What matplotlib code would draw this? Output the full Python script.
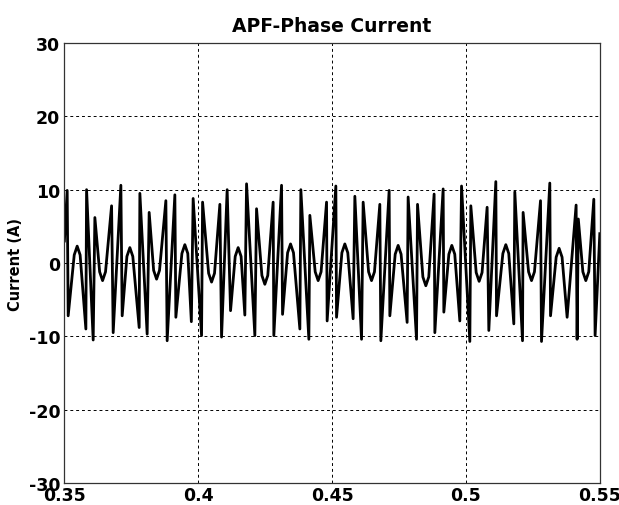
import matplotlib
matplotlib.use("Agg")
import matplotlib.pyplot as plt

# ─────────────────────────────────────────────
# Data (turning points + rounded tops of the waveform)
# one line per 20 ms period
# ─────────────────────────────────────────────

time_s = [
    0.35000, 0.35105, 0.35142, 0.35368, 0.35478, 0.35588, 0.35803, 0.35829, 0.36076, 0.36139, 0.36317, 0.36427, 0.36537, 0.36763, 0.36823,
    0.37110, 0.37159, 0.37336, 0.37446, 0.37556, 0.37794, 0.37820, 0.38092, 0.38167, 0.38334, 0.38444, 0.38554, 0.38791, 0.38839,
    0.39127, 0.39164, 0.39390, 0.39500, 0.39610, 0.39743, 0.39810, 0.40124, 0.40162, 0.40388, 0.40498, 0.40608, 0.40808, 0.40871,
    0.41080, 0.41207, 0.41381, 0.41491, 0.41601, 0.41741, 0.41805, 0.42115, 0.42178, 0.42378, 0.42488, 0.42598, 0.42798, 0.42824,
    0.43112, 0.43149, 0.43338, 0.43448, 0.43558, 0.43796, 0.43833, 0.44132, 0.44169, 0.44369, 0.44479, 0.44589, 0.44793, 0.44815,
    0.45140, 0.45166, 0.45366, 0.45476, 0.45586, 0.45786, 0.45850, 0.46100, 0.46160, 0.46363, 0.46473, 0.46583, 0.46783, 0.46821,
    0.47131, 0.47157, 0.47357, 0.47467, 0.47577, 0.47803, 0.47840, 0.48154, 0.48191, 0.48391, 0.48501, 0.48611, 0.48811, 0.48838,
    0.49148, 0.49174, 0.49362, 0.49472, 0.49582, 0.49771, 0.49835, 0.50145, 0.50182, 0.50382, 0.50492, 0.50602, 0.50791, 0.50854,
    0.51116, 0.51142, 0.51379, 0.51489, 0.51599, 0.51788, 0.51825, 0.52113, 0.52135, 0.52339, 0.52449, 0.52559, 0.52785, 0.52822,
    0.53132, 0.53159, 0.53370, 0.53480, 0.53590, 0.53779, 0.54115, 0.54152, 0.54197, 0.54367, 0.54477, 0.54587, 0.54776, 0.54824, 0.55000,
]

current_a = [
    3.0, 9.9, -7.2, 1.1, 2.3, 1.1, -9.0, 10.0, -10.5, 6.2, -1.2, -2.4, -1.2, 7.8, -9.5,
    10.6, -7.2, 0.9, 2.1, 0.9, -8.8, 9.5, -9.7, 6.9, -1.0, -2.2, -1.0, 8.5, -10.6,
    9.3, -7.4, 1.3, 2.5, 1.3, -8.0, 8.8, -9.9, 8.3, -1.4, -2.6, -1.4, 8.0, -10.1,
    10.0, -6.5, 0.9, 2.1, 0.9, -7.1, 10.8, -9.9, 7.4, -1.7, -2.9, -1.7, 8.3, -9.9,
    10.6, -7.0, 1.4, 2.6, 1.4, -9.0, 10.0, -10.4, 6.5, -1.2, -2.4, -1.2, 8.3, -7.9,
    10.5, -7.4, 1.4, 2.6, 1.4, -7.6, 9.1, -10.4, 8.3, -1.2, -2.4, -1.2, 8.0, -10.6,
    9.9, -7.2, 1.2, 2.4, 1.2, -8.1, 9.0, -10.4, 8.0, -1.9, -3.1, -1.9, 9.4, -9.5,
    10.1, -6.7, 1.2, 2.4, 1.2, -7.9, 10.5, -10.7, 7.8, -1.3, -2.5, -1.3, 7.6, -9.2,
    11.1, -7.2, 1.3, 2.5, 1.3, -8.3, 9.7, -10.6, 6.9, -1.2, -2.4, -1.2, 8.5, -10.7,
    10.9, -7.2, 0.8, 2.0, 0.8, -7.4, 7.9, -10.4, 6.0, -1.2, -2.4, -1.2, 8.7, -9.9, 4.0,
]

x_ticks = [0.35, 0.4, 0.45, 0.5, 0.55]
x_tick_labels = ["0.35", "0.4", "0.45", "0.5", "0.55"]
y_ticks = [-30, -20, -10, 0, 10, 20, 30]

# ─────────────────────────────────────────────
# Plot
# ─────────────────────────────────────────────

plt.rcParams["axes.unicode_minus"] = False
plt.rcParams["font.family"] = "DejaVu Sans"

fig = plt.figure(figsize=(6.19, 5.06), dpi=100)
ax = fig.add_axes([0.104, 0.0435, 0.865, 0.8695])

ax.plot(time_s, current_a, color="black", linewidth=2.0, solid_joinstyle="round")

ax.set_xlim(0.35, 0.55)
ax.set_ylim(-30, 30)
ax.set_xticks(x_ticks)
ax.set_xticklabels(x_tick_labels)
ax.set_yticks(y_ticks)

ax.grid(True, color="black", linestyle=(0, (3, 3)), linewidth=0.7)
ax.tick_params(length=0, labelsize=12.5, pad=3)
ax.tick_params(axis="x", pad=2)
for lab in ax.get_xticklabels() + ax.get_yticklabels():
    lab.set_fontweight("bold")

for sp in ax.spines.values():
    sp.set_color("#333333")
    sp.set_linewidth(0.9)

ax.set_ylabel("Current (A)", fontsize=10.5, fontweight="bold", labelpad=4)
ax.set_title("APF-Phase Current", fontsize=13.5, fontweight="bold", pad=9)

fig.savefig("out.png", dpi=100)
